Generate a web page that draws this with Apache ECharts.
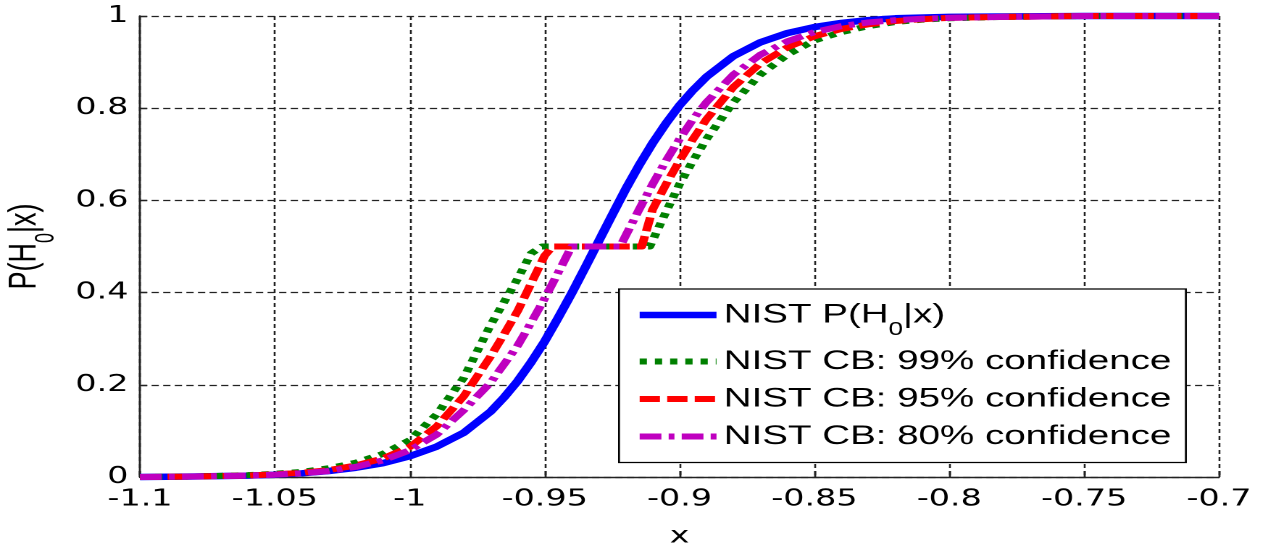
<!DOCTYPE html>
<html>
<head>
<meta charset="utf-8">
<script src="https://cdn.jsdelivr.net/npm/echarts@6/dist/echarts.min.js"></script>
<style>
  html, body { margin: 0; padding: 0; background: #fff; }
  #wrap { position: absolute; left: 0; top: 0; width: 1268px; height: 547px; overflow: hidden; background: #fff; }
  #chart { width: 875px; height: 547px; transform-origin: 0 0; }
</style>
</head>
<body>
<div id="wrap"><div id="chart"></div></div>
<script>
// ---- data ----
const xTickLabels = ['-1.1', '-1.05', '-1', '-0.95', '-0.9', '-0.85', '-0.8', '-0.75', '-0.7'];
const yTickLabels = ['0', '0.2', '0.4', '0.6', '0.8', '1'];

const seriesNames = ['NIST P(H0|x)', 'NIST CB: 99% confidence', 'NIST CB: 95% confidence', 'NIST CB: 80% confidence'];

const blueX = [-1.10,-1.08,-1.06,-1.05,-1.04,-1.03,-1.02,-1.01,-1.00,-0.99,-0.98,-0.97,-0.965,-0.96,-0.955,-0.95,-0.945,-0.94,-0.935,-0.93,-0.925,-0.92,-0.915,-0.91,-0.905,-0.90,-0.895,-0.89,-0.88,-0.87,-0.86,-0.85,-0.84,-0.83,-0.82,-0.80,-0.78,-0.75,-0.70];
const blueY = [0.000,0.001,0.003,0.005,0.008,0.013,0.020,0.030,0.045,0.066,0.096,0.142,0.173,0.208,0.249,0.294,0.345,0.398,0.454,0.511,0.568,0.624,0.676,0.724,0.767,0.806,0.839,0.868,0.913,0.943,0.963,0.976,0.985,0.991,0.995,0.998,0.999,1.000,1.000];

const greenX = [-1.10,-1.08,-1.06,-1.05,-1.04,-1.03,-1.02,-1.01,-1.00,-0.99,-0.98,-0.97,-0.965,-0.96,-0.955,-0.951,-0.911,-0.905,-0.90,-0.895,-0.89,-0.88,-0.87,-0.86,-0.85,-0.84,-0.83,-0.82,-0.81,-0.80,-0.78,-0.75,-0.70];
const greenY = [0.000,0.001,0.004,0.007,0.011,0.019,0.031,0.050,0.080,0.136,0.215,0.330,0.380,0.430,0.485,0.500,0.500,0.575,0.635,0.686,0.733,0.813,0.873,0.916,0.947,0.965,0.978,0.987,0.992,0.995,0.998,1.000,1.000];

const redX = [-1.10,-1.08,-1.06,-1.05,-1.04,-1.03,-1.02,-1.01,-1.00,-0.99,-0.98,-0.97,-0.965,-0.96,-0.955,-0.95,-0.947,-0.914,-0.91,-0.905,-0.90,-0.895,-0.89,-0.88,-0.87,-0.86,-0.85,-0.84,-0.83,-0.82,-0.81,-0.80,-0.78,-0.75,-0.70];
const redY = [0.000,0.001,0.003,0.006,0.009,0.015,0.025,0.040,0.065,0.110,0.175,0.262,0.310,0.360,0.420,0.480,0.500,0.500,0.580,0.635,0.686,0.733,0.776,0.846,0.897,0.932,0.956,0.972,0.982,0.989,0.993,0.996,0.998,1.000,1.000];

const magentaX = [-1.10,-1.08,-1.06,-1.05,-1.04,-1.03,-1.02,-1.01,-1.00,-0.99,-0.98,-0.97,-0.96,-0.955,-0.95,-0.945,-0.94,-0.922,-0.92,-0.915,-0.91,-0.905,-0.90,-0.895,-0.89,-0.88,-0.87,-0.86,-0.85,-0.84,-0.83,-0.82,-0.81,-0.80,-0.78,-0.75,-0.70];
const magentaY = [0.000,0.001,0.003,0.005,0.008,0.013,0.022,0.036,0.058,0.092,0.145,0.205,0.285,0.335,0.387,0.443,0.500,0.500,0.523,0.580,0.635,0.686,0.733,0.776,0.813,0.873,0.916,0.945,0.965,0.978,0.986,0.991,0.994,0.996,0.998,1.000,1.000];

// ---- layout ----
const W = 1268, H = 547, CW = 875;
const S = W / CW;               // horizontal stretch of the original figure
const chartEl = document.getElementById('chart');
chartEl.style.transform = 'scaleX(' + S + ')';

const xMin = -1.1, xMax = -0.7, xStep = 0.05;
const yMin = 0, yMax = 1, yStep = 0.2;

function pairs(xs, ys) { return xs.map((x, i) => [x, ys[i]]); }

const tickFont = 'DejaVu Sans';
const textFont = 'Liberation Sans';

const chart = echarts.init(chartEl, null, { renderer: 'canvas', devicePixelRatio: 2 });

const nameRich = {
  a: { fontFamily: textFont, fontSize: 27, lineHeight: 30, color: '#000' },
  s: { fontFamily: textFont, fontSize: 18, lineHeight: 18, color: '#000', padding: [30, 0, 0, 0] }
};
const legendRich = {
  a: { fontFamily: textFont, fontSize: 26.6, lineHeight: 30, color: '#000' },
  s: { fontFamily: textFont, fontSize: 18, lineHeight: 18, color: '#000', padding: [30, 0, 0, 0] }
};

function mkSeries(name, xs, ys, color, width, dash) {
  return {
    type: 'line', name: name, data: pairs(xs, ys),
    showSymbol: false, symbol: 'none', clip: false,
    smooth: false,
    lineStyle: { color: color, width: width, type: dash, cap: 'butt', join: 'round' },
    itemStyle: { color: color },
    emphasis: { disabled: true }
  };
}

chart.setOption({
  animation: false,
  backgroundColor: '#fff',
  grid: { left: 140 / S, right: (W - 1219) / S, top: 16, bottom: 70, containLabel: false, outerBoundsMode: 'none' },
  xAxis: {
    type: 'value', min: xMin, max: xMax, interval: xStep,
    name: 'x', nameLocation: 'middle', nameGap: 48,
    nameTextStyle: { fontFamily: tickFont, fontSize: 23, color: '#000' },
    axisLine: { show: true, onZero: false, lineStyle: { color: '#222', width: 1.4 } },
    axisTick: { show: true, inside: true, length: 6, lineStyle: { color: '#222', width: 1.4 } },
    axisLabel: {
      fontFamily: tickFont, fontSize: 23, color: '#000', margin: 11,
      formatter: v => xTickLabels[Math.round((v - xMin) / xStep)]
    },
    splitLine: { show: true, lineStyle: { color: '#222', width: 1.3, type: [4, 3] } }
  },
  yAxis: {
    type: 'value', min: yMin, max: yMax, interval: yStep,
    name: '{a|P(H}{s|0}{a||x)}', nameLocation: 'middle', nameGap: 38, nameRotate: 90,
    nameTextStyle: { fontFamily: textFont, fontSize: 27, color: '#000', rich: nameRich },
    axisLine: { show: true, lineStyle: { color: '#222', width: 1.4 } },
    axisTick: { show: true, inside: true, length: 5, lineStyle: { color: '#222', width: 1.4 } },
    axisLabel: {
      fontFamily: tickFont, fontSize: 23, color: '#000', margin: 8,
      formatter: v => yTickLabels[Math.round((v - yMin) / yStep)]
    },
    splitLine: { show: true, lineStyle: { color: '#222', width: 1.3, type: [5, 3] } }
  },
  legend: {
    show: true, orient: 'vertical', left: 619 / S, top: 289,
    padding: [2, 10, 11, 11], itemGap: 7.5, itemWidth: 53, itemHeight: 30,
    backgroundColor: '#fff', borderColor: '#000', borderWidth: 1.3,
    selectedMode: false,
    itemStyle: { opacity: 0, borderWidth: 0 },
    lineStyle: { width: 'inherit' },
    textStyle: { fontFamily: textFont, fontSize: 26.6, lineHeight: 30, color: '#000', rich: legendRich },
    formatter: name => name === seriesNames[0] ? '{a|NIST P(H}{s|0}{a||x)}' : '{a|' + name + '}',
    data: seriesNames
  },
  series: [
    mkSeries(seriesNames[0], blueX, blueY, '#0000FF', 6.5, 'solid'),
    mkSeries(seriesNames[1], greenX, greenY, '#008000', 6, [5, 5.5]),
    mkSeries(seriesNames[2], redX, redY, '#FF0000', 6, [14, 5]),
    mkSeries(seriesNames[3], magentaX, magentaY, '#BF00BF', 6, [15, 5, 4, 5])
  ]
});
</script>
</body>
</html>
